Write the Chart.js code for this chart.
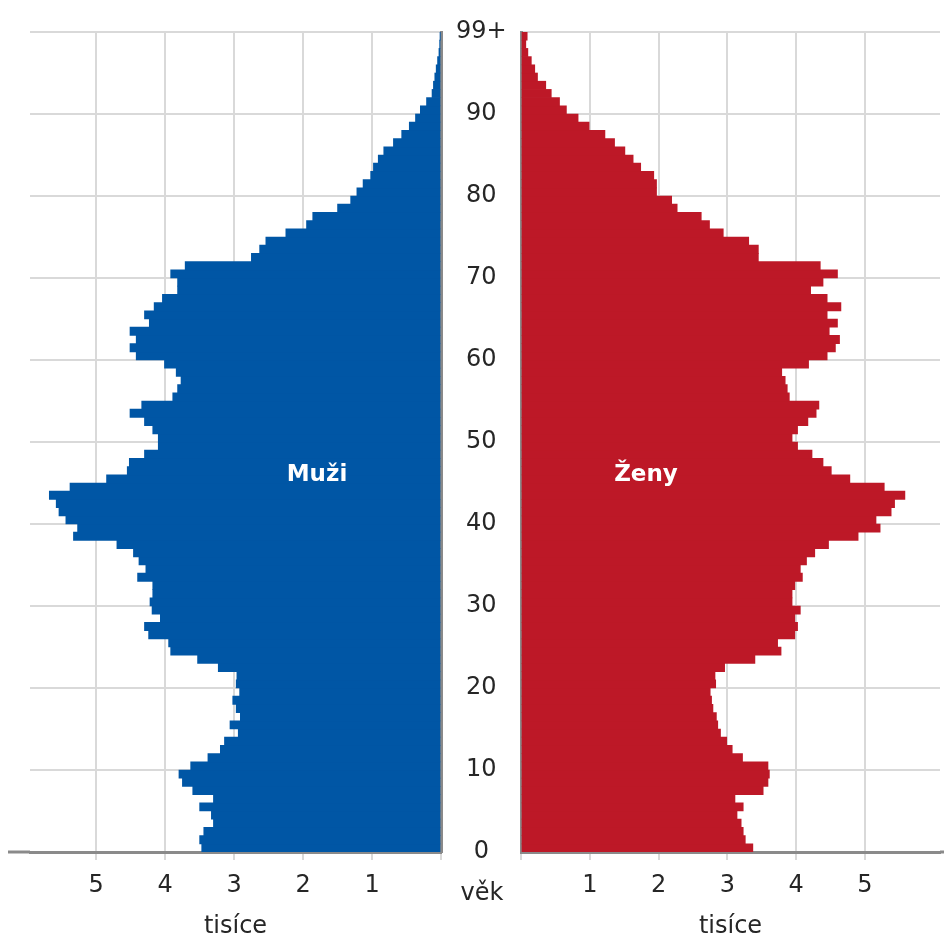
<!DOCTYPE html>
<html lang="cs">
<head>
<meta charset="utf-8">
<script src="https://cdn.jsdelivr.net/npm/chart.js@4/dist/chart.umd.min.js"></script>
<style>
html, body { margin: 0; padding: 0; background: #fff; }
#obal { position: relative; width: 944px; height: 936px; }
#muzi { position: absolute; left: 0; top: 0; }
#zeny { position: absolute; left: 501px; top: 0; }
</style>
</head>
<body>
<div id="obal">
<canvas id="muzi" width="521" height="936"></canvas>
<canvas id="zeny" width="443" height="936"></canvas>
</div>
<script>

// vek 0 .. 99+ (jeden sloupec na rok)
const vek = [
    0, 1, 2, 3, 4, 5, 6, 7, 8, 9,
    10, 11, 12, 13, 14, 15, 16, 17, 18, 19,
    20, 21, 22, 23, 24, 25, 26, 27, 28, 29,
    30, 31, 32, 33, 34, 35, 36, 37, 38, 39,
    40, 41, 42, 43, 44, 45, 46, 47, 48, 49,
    50, 51, 52, 53, 54, 55, 56, 57, 58, 59,
    60, 61, 62, 63, 64, 65, 66, 67, 68, 69,
    70, 71, 72, 73, 74, 75, 76, 77, 78, 79,
    80, 81, 82, 83, 84, 85, 86, 87, 88, 89,
    90, 91, 92, 93, 94, 95, 96, 97, 98, 99
];

// tisice osob
const muzi = [
    3.47, 3.50, 3.44, 3.30, 3.33, 3.50, 3.30, 3.60, 3.75, 3.80,
    3.63, 3.38, 3.20, 3.14, 2.94, 3.06, 2.91, 2.97, 3.02, 2.92,
    2.97, 2.96, 3.23, 3.53, 3.92, 3.95, 4.24, 4.30, 4.07, 4.19,
    4.22, 4.18, 4.18, 4.40, 4.28, 4.38, 4.46, 4.70, 5.33, 5.27,
    5.44, 5.54, 5.58, 5.68, 5.38, 4.85, 4.55, 4.52, 4.30, 4.10,
    4.10, 4.18, 4.30, 4.51, 4.34, 3.89, 3.82, 3.77, 3.84, 4.01,
    4.42, 4.51, 4.42, 4.51, 4.23, 4.30, 4.16, 4.04, 3.82, 3.82,
    3.92, 3.71, 2.75, 2.63, 2.54, 2.25, 1.95, 1.86, 1.50, 1.31,
    1.22, 1.13, 1.02, 0.98, 0.91, 0.83, 0.69, 0.57, 0.46, 0.37,
    0.30, 0.21, 0.13, 0.11, 0.09, 0.07, 0.05, 0.03, 0.02, 0.01
];

const zeny = [
    3.37, 3.26, 3.23, 3.20, 3.14, 3.23, 3.11, 3.52, 3.59, 3.61,
    3.59, 3.22, 3.07, 2.99, 2.90, 2.86, 2.84, 2.79, 2.77, 2.75,
    2.83, 2.82, 2.96, 3.40, 3.78, 3.73, 3.98, 4.02, 3.98, 4.06,
    3.94, 3.94, 3.98, 4.09, 4.06, 4.15, 4.27, 4.47, 4.90, 5.22,
    5.16, 5.38, 5.43, 5.58, 5.28, 4.78, 4.51, 4.39, 4.23, 4.02,
    3.94, 4.02, 4.17, 4.29, 4.33, 3.90, 3.87, 3.84, 3.79, 4.18,
    4.45, 4.57, 4.63, 4.48, 4.60, 4.45, 4.65, 4.45, 4.21, 4.39,
    4.60, 4.35, 3.45, 3.45, 3.31, 2.94, 2.74, 2.62, 2.27, 2.19,
    1.97, 1.97, 1.93, 1.74, 1.63, 1.51, 1.36, 1.22, 0.99, 0.83,
    0.66, 0.56, 0.44, 0.36, 0.24, 0.20, 0.15, 0.10, 0.07, 0.09
];

const tisiceTicks = [1, 2, 3, 4, 5];

const modra = '#0056a5';
const cervena = '#bd1827';
const mrizka = '#d9d9d9';
const osa = '#8a8a8a';
const text = '#262626';
const rodina = "'DejaVu Sans', Verdana, sans-serif";
const pismo = { family: rodina, size: 24 };

function body(hodnoty) {
    return vek.map((v, i) => ({ x: hodnoty[i], y: v + 0.5 }));
}

function xOsa(obracene, max) {
    return {
        type: 'linear',
        reverse: obracene,
        min: 0,
        max: max,
        afterBuildTicks: s => {
            s.ticks = s.ticks.filter(t => t.value <= 5);
        },
        ticks: {
            stepSize: 1,
            includeBounds: false,
            autoSkip: false,
            maxRotation: 0,
            padding: 11,
            color: text,
            font: pismo,
            callback: v => tisiceTicks.includes(v) ? String(v) : ''
        },
        grid: {
            color: mrizka,
            lineWidth: 2,
            tickLength: 8
        },
        border: { color: osa, width: 3 },
        title: {
            display: true,
            text: 'tisíce',
            color: text,
            font: pismo,
            padding: { top: 0, bottom: -5 }
        },
        afterFit: s => { s.height = 84; }
    };
}

function popisek(napis, x, y) {
    return {
        id: 'popisek' + napis,
        afterDatasetsDraw(chart) {
            const ctx = chart.ctx;
            ctx.save();
            ctx.fillStyle = '#ffffff';
            ctx.font = "bold 23px " + rodina;
            ctx.textAlign = 'center';
            ctx.textBaseline = 'middle';
            ctx.fillText(napis, x, y);
            ctx.restore();
        }
    };
}

const extraMuzi = {
    id: 'extraMuzi',
    afterDraw(chart) {
        const ctx = chart.ctx;
        const a = chart.chartArea;
        ctx.save();
        ctx.strokeStyle = osa;
        ctx.lineWidth = 3;
        ctx.beginPath();
        ctx.moveTo(8, a.bottom);
        ctx.lineTo(a.left, a.bottom);
        ctx.stroke();
        ctx.fillStyle = text;
        ctx.font = "24px " + rodina;
        ctx.textAlign = 'center';
        ctx.textBaseline = 'middle';
        ctx.fillText('věk', 482, 894);
        ctx.restore();
    }
};

const extraZeny = {
    id: 'extraZeny',
    afterDraw(chart) {
        const ctx = chart.ctx;
        const a = chart.chartArea;
        ctx.save();
        ctx.strokeStyle = osa;
        ctx.lineWidth = 3;
        ctx.beginPath();
        ctx.moveTo(a.right, a.bottom);
        ctx.lineTo(chart.width, a.bottom);
        ctx.stroke();
        ctx.restore();
    }
};

new Chart(document.querySelector('#muzi'), {
    type: 'bar',
    data: {
        datasets: [
            {
                label: 'Muži',
                data: body(muzi),
                backgroundColor: modra,
                borderWidth: 0,
                barPercentage: 1,
                categoryPercentage: 1
            }
        ]
    },
    options: {
        indexAxis: 'y',
        responsive: false,
        animation: false,
        layout: { padding: { left: 30, top: 32, right: 0, bottom: 0 } },
        plugins: { legend: { display: false }, tooltip: { enabled: false } },
        scales: {
            x: xOsa(true, 5.96),
            y: {
                type: 'linear',
                position: 'right',
                min: 0,
                max: 100,
                offset: false,
                ticks: {
                    stepSize: 10,
                    padding: 15,
                    crossAlign: 'center',
                    color: text,
                    font: pismo,
                    callback: v => v === 100 ? '99+' : String(v)
                },
                grid: { color: mrizka, lineWidth: 2, drawTicks: false, offset: false },
                border: { color: osa, width: 3 },
                afterFit: s => { s.width = 80; }
            }
        }
    },
    plugins: [popisek('Muži', 317, 475), extraMuzi]
});

new Chart(document.querySelector('#zeny'), {
    type: 'bar',
    data: {
        datasets: [
            {
                label: 'Ženy',
                data: body(zeny),
                backgroundColor: cervena,
                borderWidth: 0,
                barPercentage: 1,
                categoryPercentage: 1
            }
        ]
    },
    options: {
        indexAxis: 'y',
        responsive: false,
        animation: false,
        layout: { padding: { left: 0, top: 32, right: 4, bottom: 0 } },
        plugins: { legend: { display: false }, tooltip: { enabled: false } },
        scales: {
            x: xOsa(false, 6.09),
            y: {
                type: 'linear',
                position: 'left',
                min: 0,
                max: 100,
                offset: false,
                ticks: { display: false, stepSize: 10 },
                grid: { color: mrizka, lineWidth: 2, drawTicks: false, offset: false },
                border: { color: osa, width: 3 },
                afterFit: s => { s.width = 20; }
            }
        }
    },
    plugins: [popisek('Ženy', 145, 475), extraZeny]
});

</script>
</body>
</html>
